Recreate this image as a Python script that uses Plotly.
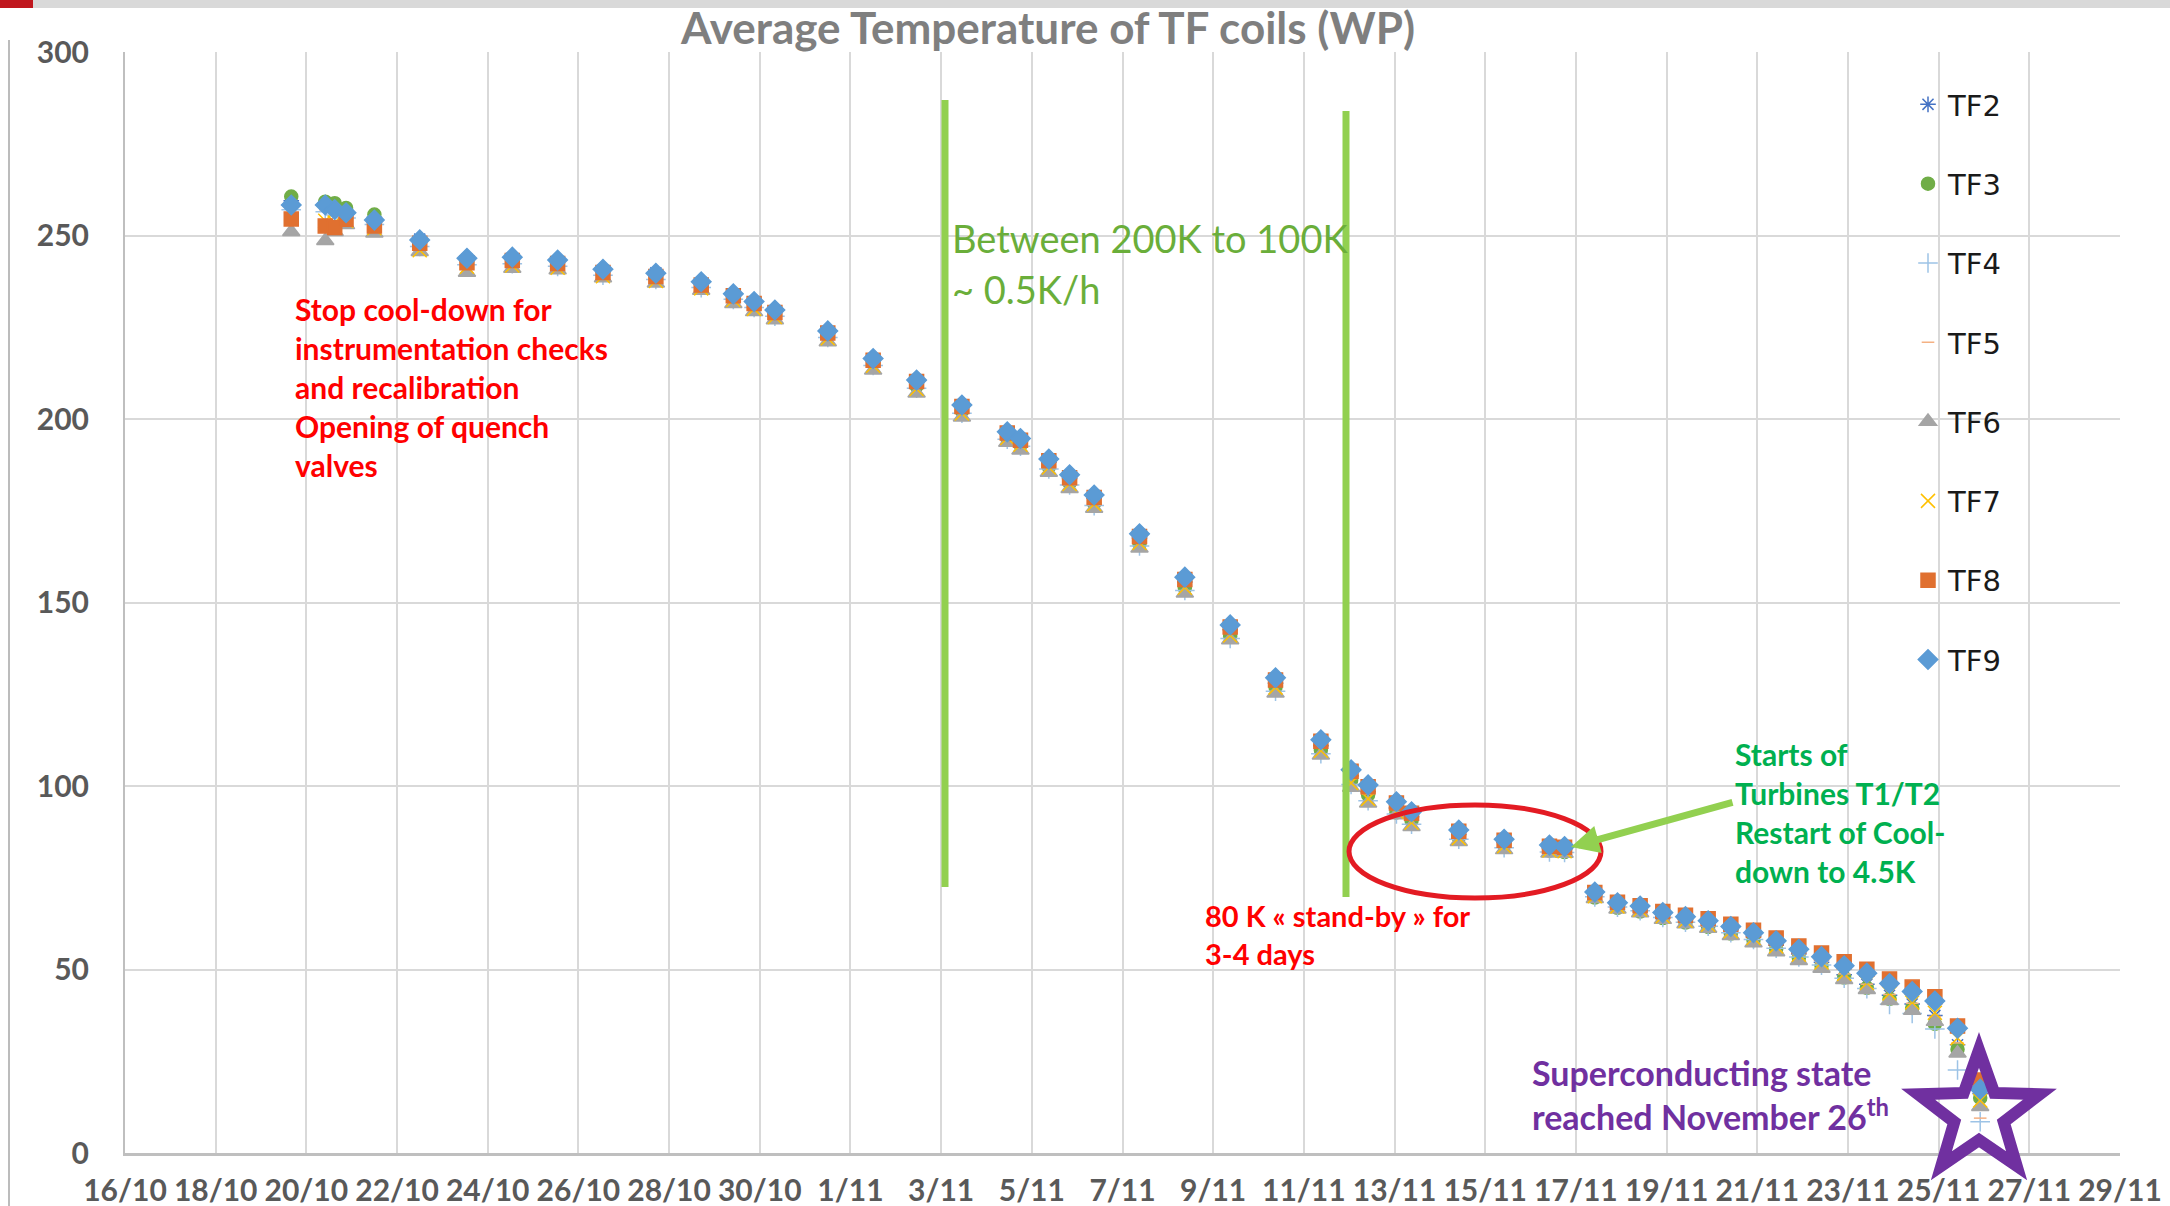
import math
import plotly.graph_objects as go

# measurement times (2020 cool-down campaign)
times = [
    "2020-10-19 16:00", "2020-10-20 10:00", "2020-10-20 15:00", "2020-10-20 21:00",
    "2020-10-21 12:00", "2020-10-22 12:00", "2020-10-23 13:00", "2020-10-24 13:00",
    "2020-10-25 13:00", "2020-10-26 13:00", "2020-10-27 17:00", "2020-10-28 17:00",
    "2020-10-29 10:00", "2020-10-29 21:00", "2020-10-30 08:00", "2020-10-31 12:00",
    "2020-11-01 12:00", "2020-11-02 11:00", "2020-11-03 11:00", "2020-11-04 11:00",
    "2020-11-04 18:00", "2020-11-05 09:00", "2020-11-05 20:00", "2020-11-06 09:00",
    "2020-11-07 09:00", "2020-11-08 09:00", "2020-11-09 09:00", "2020-11-10 09:00",
    "2020-11-11 09:00", "2020-11-12 01:00", "2020-11-12 10:00", "2020-11-13 01:00",
    "2020-11-13 09:00", "2020-11-14 10:00", "2020-11-15 10:00", "2020-11-16 10:00",
    "2020-11-16 18:00", "2020-11-17 10:00", "2020-11-17 22:00", "2020-11-18 10:00",
    "2020-11-18 22:00", "2020-11-19 10:00", "2020-11-19 22:00", "2020-11-20 10:00",
    "2020-11-20 22:00", "2020-11-21 10:00", "2020-11-21 22:00", "2020-11-22 10:00",
    "2020-11-22 22:00", "2020-11-23 10:00", "2020-11-23 22:00", "2020-11-24 10:00",
    "2020-11-24 22:00", "2020-11-25 10:00", "2020-11-25 22:00",
]

tf2 = [259.5, 258.8, 257.8, 256.8, 255.0, 249.0, 243.5, 243.8, 243.0, 240.5, 239.8, 237.2,
       233.8, 231.6, 229.4, 223.6, 216.0, 210.0, 203.2, 196.0, 194.0, 188.2, 183.8, 178.4,
       167.6, 155.6, 142.6, 128.0, 111.0, 102.8, 98.5, 94.0, 91.6, 86.8, 84.6, 83.0, 82.7,
       70.4, 67.6, 66.7, 64.9, 63.7, 62.6, 60.8, 59.0, 56.6, 54.2, 52.0, 48.6, 46.0, 43.0,
       40.6, 37.5, 29.5, 16.2]
tf3 = [260.6, 259.2, 258.8, 257.5, 255.7, 248.2, 243.0, 243.4, 242.8, 240.0, 239.4, 236.6,
       233.2, 231.0, 228.6, 222.8, 215.3, 209.0, 202.2, 194.8, 193.0, 187.0, 182.6, 177.0,
       166.0, 154.0, 140.8, 127.0, 109.8, 101.5, 97.6, 92.8, 90.6, 86.0, 84.0, 82.4, 82.0,
       69.6, 66.8, 65.8, 64.0, 62.8, 61.6, 59.8, 58.0, 55.6, 53.2, 51.0, 47.8, 45.0, 42.0,
       39.5, 35.2, 28.3, 15.0]
tf4 = [257.0, 256.5, 255.6, 254.8, 253.0, 247.0, 242.0, 242.3, 241.6, 239.2, 238.0, 235.8,
       232.6, 230.4, 228.0, 222.2, 214.6, 208.4, 201.6, 194.5, 192.6, 186.4, 182.0, 176.4,
       165.4, 153.3, 140.2, 125.8, 108.8, 100.4, 96.0, 92.4, 89.6, 85.5, 83.2, 82.0, 81.9,
       69.8, 67.0, 66.0, 64.2, 62.9, 61.8, 60.0, 58.2, 55.8, 53.4, 51.2, 47.6, 44.8, 40.5,
       38.0, 33.8, 22.6, 8.5]
tf5 = [257.8, 257.0, 256.2, 255.5, 253.6, 247.8, 242.8, 243.0, 242.2, 239.8, 238.6, 236.4,
       233.0, 230.8, 228.4, 222.6, 215.2, 209.2, 202.4, 195.2, 193.5, 187.6, 183.2, 177.6,
       166.8, 154.8, 141.8, 127.4, 110.4, 102.0, 97.8, 93.6, 91.2, 86.6, 84.4, 82.9, 82.6,
       70.2, 67.5, 66.6, 64.8, 63.6, 62.4, 60.6, 58.8, 56.4, 54.0, 51.8, 48.8, 46.0, 43.2,
       40.8, 37.2, 30.0, 9.5]
tf6 = [251.0, 248.6, 251.0, 252.9, 250.6, 245.6, 239.9, 241.0, 240.6, 238.4, 237.0, 235.0,
       231.4, 229.2, 227.0, 221.0, 213.3, 207.0, 200.5, 193.6, 191.5, 185.4, 181.0, 175.6,
       164.8, 152.5, 139.8, 125.3, 108.4, 99.6, 95.3, 92.1, 88.9, 84.8, 82.6, 81.7, 81.6,
       69.3, 66.4, 65.4, 63.6, 62.4, 61.2, 59.2, 57.2, 54.8, 52.4, 50.3, 47.2, 44.5, 41.5,
       38.8, 35.8, 27.2, 12.6]
tf7 = [256.0, 254.0, 253.5, 254.0, 252.0, 246.0, 241.5, 241.8, 241.2, 238.9, 237.6, 235.6,
       232.4, 230.0, 227.8, 222.0, 214.5, 208.2, 201.5, 194.8, 193.0, 186.8, 182.3, 176.8,
       166.2, 154.0, 141.0, 126.8, 109.6, 100.8, 96.5, 93.0, 90.0, 85.8, 83.6, 82.4, 82.2,
       70.0, 67.2, 66.3, 64.5, 63.3, 62.2, 60.4, 58.6, 56.3, 54.0, 51.9, 48.8, 46.3, 43.5,
       41.0, 38.2, 31.3, 14.3]
tf8 = [254.5, 252.6, 252.2, 254.4, 252.6, 247.9, 242.6, 243.2, 242.4, 239.9, 238.8, 236.5,
       233.6, 231.5, 229.0, 223.4, 216.0, 210.2, 203.4, 196.2, 194.2, 188.6, 184.0, 178.6,
       168.0, 156.3, 143.3, 128.9, 112.2, 104.0, 99.8, 95.4, 92.6, 87.7, 85.2, 83.6, 83.3,
       71.0, 68.3, 67.4, 65.8, 64.8, 63.8, 62.3, 60.7, 58.6, 56.4, 54.5, 52.1, 50.1, 47.4,
       45.2, 42.6, 34.6, 19.9]
tf9 = [258.3, 258.3, 257.1, 256.2, 254.2, 248.8, 243.8, 244.1, 243.3, 240.8, 239.7, 237.4,
       234.1, 232.0, 229.7, 224.0, 216.5, 210.6, 203.8, 196.5, 194.7, 189.1, 184.8, 179.3,
       168.7, 156.9, 143.9, 129.5, 112.6, 104.4, 100.3, 95.7, 93.0, 88.0, 85.5, 83.9, 83.5,
       71.1, 68.2, 67.3, 65.5, 64.4, 63.3, 61.7, 60.0, 57.8, 55.5, 53.5, 51.0, 49.0, 46.2,
       44.0, 41.4, 34.0, 17.4]

tick_dates = ["2020-10-16", "2020-10-18", "2020-10-20", "2020-10-22", "2020-10-24",
              "2020-10-26", "2020-10-28", "2020-10-30", "2020-11-01", "2020-11-03",
              "2020-11-05", "2020-11-07", "2020-11-09", "2020-11-11", "2020-11-13",
              "2020-11-15", "2020-11-17", "2020-11-19", "2020-11-21", "2020-11-23",
              "2020-11-25", "2020-11-27", "2020-11-29"]
tick_labels = ["16/10", "18/10", "20/10", "22/10", "24/10", "26/10", "28/10", "30/10",
               "1/11", "3/11", "5/11", "7/11", "9/11", "11/11", "13/11", "15/11", "17/11",
               "19/11", "21/11", "23/11", "25/11", "27/11", "29/11"]

# name, values, symbol, colour, size
series = [
    ("TF2", tf2, "asterisk-open", "#4472C4", 13),
    ("TF3", tf3, "circle", "#70AD47", 13),
    ("TF4", tf4, "cross-thin-open", "#9DC3E6", 14),
    ("TF5", tf5, "line-ew-open", "#F4B183", 9),
    ("TF6", tf6, "triangle-up", "#A5A5A5", 15),
    ("TF7", tf7, "x-thin-open", "#FFC000", 14),
    ("TF8", tf8, "square", "#E07030", 14),
    ("TF9", tf9, "diamond", "#5B9BD5", 15),
]

W, H = 2170, 1206
L, R, T, B = 125, 2120, 52, 1153


def px(x):
    return (x - L) / (R - L)


def py(y):
    return (B - y) / (B - T)


fig = go.Figure()
for name, vals, sym, col, size in series:
    fig.add_trace(go.Scatter(
        x=times, y=vals, mode="markers", name=name, legendgroup=name,
        marker=dict(symbol=sym, color=col, size=size, line=dict(color=col, width=1.5)),
    ))

shapes = []
# slide decorations
shapes.append(dict(type="rect", xref="paper", yref="paper", x0=px(0), x1=px(W), y0=py(0), y1=py(8),
                   fillcolor="#D9D9D9", line=dict(width=0), layer="above"))
shapes.append(dict(type="rect", xref="paper", yref="paper", x0=px(0), x1=px(33), y0=py(0), y1=py(8),
                   fillcolor="#C0171E", line=dict(width=0), layer="above"))
shapes.append(dict(type="line", xref="paper", yref="paper", x0=px(9), x1=px(9), y0=py(40), y1=py(H),
                   line=dict(color="#A6A6A6", width=1.5)))
# green phase markers
for x, y0, y1 in [(945, 100, 887), (1346, 111, 897)]:
    shapes.append(dict(type="line", xref="paper", yref="paper", x0=px(x), x1=px(x), y0=py(y0), y1=py(y1),
                       line=dict(color="#92D050", width=7), layer="above"))
# red ellipse around the 80 K stand-by
shapes.append(dict(type="circle", xref="paper", yref="paper", x0=px(1349), x1=px(1601),
                   y0=py(805), y1=py(898), line=dict(color="#E31B23", width=5), layer="above"))
# purple star
cx, cy, ro, ri = 1979, 1114, 64, 26
pts = []
for i in range(10):
    a = -math.pi / 2 + i * math.pi / 5
    r = ro if i % 2 == 0 else ri
    pts.append((px(cx + r * math.cos(a)), py(cy + r * math.sin(a))))
path = "M " + " L ".join(f"{a:.5f},{b:.5f}" for a, b in pts) + " Z"
shapes.append(dict(type="path", xref="paper", yref="paper", path=path,
                   line=dict(color="#7030A0", width=12), layer="above"))

ann = []
ann.append(dict(xref="paper", yref="paper", x=px(293), y=py(387), xanchor="left", yanchor="middle",
                align="left", showarrow=False,
                text="<b>Stop cool-down for<br>instrumentation checks<br>and recalibration<br>"
                     "Opening of quench<br>valves</b>",
                font=dict(family="Lato", size=30, color="#FF0000")))
ann.append(dict(xref="paper", yref="paper", x=px(950), y=py(238), xanchor="left", yanchor="middle",
                showarrow=False, text="Between 200K to 100K",
                font=dict(family="Lato", size=38, color="#6AAE3A")))
ann.append(dict(xref="paper", yref="paper", x=px(950), y=py(289), xanchor="left", yanchor="middle",
                showarrow=False, text="~ 0.5K/h",
                font=dict(family="Lato", size=38, color="#6AAE3A")))
ann.append(dict(xref="paper", yref="paper", x=px(1203), y=py(934), xanchor="left", yanchor="middle",
                align="left", showarrow=False,
                text="<b>80 K « stand-by » for<br>3-4 days</b>",
                font=dict(family="Lato", size=29, color="#FF0000")))
ann.append(dict(xref="paper", yref="paper", x=px(1733), y=py(812), xanchor="left", yanchor="middle",
                align="left", showarrow=False,
                text="<b>Starts of<br>Turbines T1/T2<br>Restart of Cool-<br>down to 4.5K</b>",
                font=dict(family="Lato", size=30, color="#00B050")))
ann.append(dict(xref="paper", yref="paper", x=px(1530), y=py(1094), xanchor="left", yanchor="middle",
                align="left", showarrow=False,
                text="<b>Superconducting state<br>reached November 26<sup>th</sup></b>",
                font=dict(family="Lato", size=34, color="#7030A0")))
ann.append(dict(xref="paper", yref="paper", x=px(1571), y=py(847), ax=163, ay=-45, text="",
                showarrow=True, arrowhead=2, arrowsize=0.8, arrowwidth=7, arrowcolor="#92D050"))

fig.update_layout(
    width=W, height=H,
    paper_bgcolor="white", plot_bgcolor="white",
    margin=dict(l=L, r=W - R, t=T, b=H - B, autoexpand=False),
    title=dict(text="<b>Average Temperature of TF coils (WP)</b>", x=1048 / W, xanchor="center",
               xref="container", y=1 - 29 / H, yanchor="middle", yref="container",
               font=dict(family="Lato", size=44, color="#7F7F7F")),
    xaxis=dict(type="date", range=["2020-10-16", "2020-11-29"], tickvals=tick_dates,
               ticktext=tick_labels, ticks="", showgrid=True, gridcolor="#D9D9D9", gridwidth=2,
               showline=True, linecolor="#BFBFBF", linewidth=3, zeroline=False, automargin=False,
               tickfont=dict(family="Lato", size=30, color="#595959", weight="bold"),
               ticklabelstandoff=9),
    yaxis=dict(range=[0, 300], dtick=50, ticks="", showgrid=True, gridcolor="#D9D9D9", gridwidth=2,
               showline=True, linecolor="#BFBFBF", linewidth=2, zeroline=False, automargin=False,
               tickfont=dict(family="Lato", size=30, color="#595959", weight="bold"),
               ticklabelstandoff=28),
    legend=dict(x=px(1908), xanchor="left", y=py(79), yanchor="top", bgcolor="rgba(0,0,0,0)",
                font=dict(family="DejaVu Sans", size=29, color="#1A1A1A"),
                tracegroupgap=38.6, itemsizing="trace"),
    showlegend=True,
    shapes=shapes,
    annotations=ann,
)

fig.write_html("out.html", config={"displayModeBar": False},
               post_script="document.body.style.margin='0';")
